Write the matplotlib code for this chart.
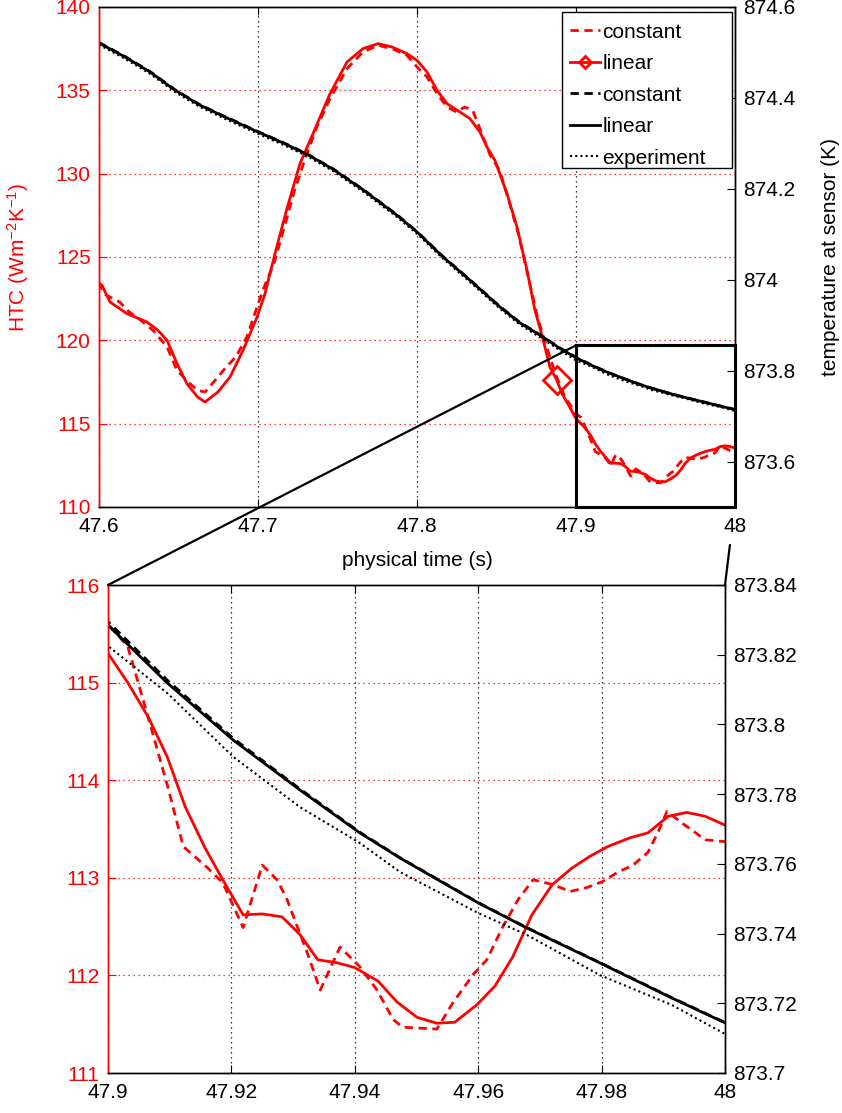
import matplotlib
matplotlib.use('Agg')
import matplotlib.pyplot as plt
from matplotlib.patches import Rectangle, ConnectionPatch
from matplotlib.ticker import FuncFormatter, FixedLocator

plt.rcParams['font.family'] = ['Liberation Sans', 'DejaVu Sans']
plt.rcParams['mathtext.default'] = 'regular'
FS = 15

# ---- heat transfer coefficient, constant model (W m^-2 K^-1) ----
t_htc_const = [
    47.6000, 47.6030, 47.6069, 47.6130, 47.6190, 47.6250, 47.6340, 47.6428,
    47.6491, 47.6560, 47.6620, 47.6667, 47.6730, 47.6800, 47.6860, 47.6930,
    47.7030, 47.7100, 47.7160, 47.7230, 47.7300, 47.7370, 47.7453, 47.7560,
    47.7660, 47.7755, 47.7843, 47.7937, 47.8000, 47.8063, 47.8126, 47.8189,
    47.8250, 47.8300, 47.8350, 47.8396, 47.8460, 47.8520, 47.8580, 47.8640,
    47.8700, 47.8760, 47.8816, 47.8870, 47.8930,
    47.9000, 47.9032, 47.9063, 47.9097, 47.9122, 47.9160, 47.9186, 47.9219,
    47.9250, 47.9274, 47.9290, 47.9323, 47.9344, 47.9376, 47.9408, 47.9436,
    47.9462, 47.9477, 47.9533, 47.9559, 47.9592, 47.9614, 47.9640, 47.9665,
    47.9689, 47.9721, 47.9749, 47.9776, 47.9801, 47.9827, 47.9851, 47.9875,
    47.9891, 47.9906, 47.9935, 47.9968, 48.0000]
htc_const = [
    123.5, 122.8, 122.6, 122.3, 121.7, 121.3, 120.6, 119.6,
    118.2, 117.5, 117.0, 116.9, 117.6, 118.4, 119.0, 120.2,
    123.0, 124.6, 126.6, 129.0, 131.0, 132.8, 134.5, 136.3,
    137.3, 137.7, 137.5, 137.1, 136.4, 135.8, 134.8, 134.0,
    133.7, 134.0, 133.8, 132.7, 131.1, 130.2, 128.3, 126.3,
    123.8, 121.3, 119.6, 118.0, 116.6,
    115.60, 115.37, 114.69, 113.93, 113.32, 113.11, 112.95, 112.49,
    113.13, 112.98, 112.78, 112.23, 111.85, 112.29, 112.09, 111.85,
    111.55, 111.47, 111.45, 111.72, 112.01, 112.16, 112.50, 112.78,
    112.98, 112.93, 112.86, 112.90, 112.96, 113.06, 113.13, 113.26,
    113.46, 113.68, 113.54, 113.39, 113.37]

# ---- heat transfer coefficient, linear model ----
t_htc_lin = [
    47.6000, 47.6019, 47.6069, 47.6176, 47.6302, 47.6371, 47.6428, 47.6491,
    47.6553, 47.6620, 47.6667, 47.6748, 47.6824, 47.6906, 47.6994, 47.7044,
    47.7075, 47.7126, 47.7182, 47.7264, 47.7346, 47.7453, 47.7560, 47.7660,
    47.7755, 47.7843, 47.7937, 47.8000, 47.8063, 47.8126, 47.8189, 47.8270,
    47.8333, 47.8396, 47.8440, 47.8490, 47.8566, 47.8629, 47.8692, 47.8742,
    47.8786, 47.8836, 47.8880, 47.8912, 47.8960,
    47.9000, 47.9032, 47.9065, 47.9096, 47.9125, 47.9157, 47.9186, 47.9219,
    47.9250, 47.9282, 47.9311, 47.9340, 47.9371, 47.9400, 47.9438, 47.9468,
    47.9501, 47.9533, 47.9562, 47.9598, 47.9627, 47.9656, 47.9687, 47.9720,
    47.9752, 47.9781, 47.9810, 47.9846, 47.9875, 47.9908, 47.9938, 47.9968,
    48.0000]
htc_lin = [
    123.4, 123.3, 122.3, 121.6, 121.1, 120.6, 120.0, 118.6,
    117.4, 116.6, 116.3, 116.9, 117.8, 119.4, 121.4, 122.8,
    124.0, 125.9, 127.9, 130.6, 132.4, 134.8, 136.7, 137.5,
    137.8, 137.6, 137.2, 136.8, 136.1, 135.0, 134.2, 133.7,
    133.3, 132.5, 131.6, 130.8, 128.8, 126.8, 124.2, 121.8,
    120.3, 118.4, 117.6, 116.8, 116.0,
    115.30, 115.00, 114.65, 114.24, 113.73, 113.31, 112.98, 112.62,
    112.63, 112.60, 112.42, 112.16, 112.13, 112.08, 111.94, 111.73,
    111.57, 111.51, 111.52, 111.70, 111.89, 112.19, 112.62, 112.93,
    113.10, 113.22, 113.32, 113.41, 113.46, 113.63, 113.67, 113.63,
    113.54]
marker_idx = [42]

# ---- temperature at the sensor (K) ----
t_temp = [
    47.6000, 47.6164, 47.6321, 47.6478, 47.6635, 47.6792, 47.7000, 47.7157,
    47.7308, 47.7472, 47.7660, 47.7874, 47.8000, 47.8164, 47.8333, 47.8522,
    47.8648, 47.8774, 47.8899, 47.9000, 47.9096, 47.9203, 47.9311, 47.9408,
    47.9473, 47.9600, 47.9679, 47.9797, 47.9914, 48.0000]
temp_const = [
    874.522, 874.491, 874.458, 874.418, 874.385, 874.359, 874.326, 874.302,
    874.277, 874.244, 874.199, 874.143, 874.106, 874.051, 874.000, 873.941,
    873.906, 873.879, 873.850, 873.8295, 873.8127, 873.7960, 873.7815, 873.7691,
    873.7618, 873.7489, 873.7417, 873.7317, 873.7216, 873.7145]
temp_lin = [
    874.521, 874.490, 874.457, 874.417, 874.384, 874.358, 874.325, 874.301,
    874.276, 874.243, 874.198, 874.142, 874.105, 874.050, 873.999, 873.940,
    873.905, 873.878, 873.849, 873.8285, 873.8119, 873.7955, 873.7812, 873.7689,
    873.7617, 873.7488, 873.7416, 873.7316, 873.7215, 873.7144]
temp_exp = [
    874.517, 874.486, 874.453, 874.413, 874.380, 874.354, 874.321, 874.297,
    874.272, 874.239, 874.194, 874.138, 874.101, 874.046, 873.995, 873.936,
    873.901, 873.873, 873.845, 873.8225, 873.8090, 873.7907, 873.7763, 873.7660,
    873.7577, 873.7459, 873.7396, 873.7281, 873.7195, 873.7112]

legend_labels = ['constant', 'linear', 'constant', 'linear', 'experiment']

top_xticks = [47.6, 47.7, 47.8, 47.9, 48.0]
top_htc_ticks = [110, 115, 120, 125, 130, 135, 140]
top_temp_ticks = [873.6, 873.8, 874.0, 874.2, 874.4, 874.6]
bot_xticks = [47.9, 47.92, 47.94, 47.96, 47.98, 48.0]
bot_htc_ticks = [111, 112, 113, 114, 115, 116]
bot_temp_ticks = [873.70, 873.72, 873.74, 873.76, 873.78, 873.80, 873.82, 873.84]

fmt = FuncFormatter(lambda v, p: f'{round(v, 6):g}')


def draw_panel(ax, xlim, ylim_htc, ylim_temp, xticks, htc_ticks, temp_ticks):
    ax.plot(t_htc_const, htc_const, color='red', ls=(0, (3, 2)), lw=2.0)
    ax.plot(t_htc_lin, htc_lin, color='red', lw=2.0, marker='D',
            markevery=marker_idx, ms=14, mfc='none', mec='red', mew=2.0)
    ax.set_xlim(*xlim)
    ax.set_ylim(*ylim_htc)
    ax.xaxis.set_major_locator(FixedLocator(xticks))
    ax.yaxis.set_major_locator(FixedLocator(htc_ticks))
    ax.xaxis.set_major_formatter(fmt)
    ax.yaxis.set_major_formatter(fmt)
    ax.grid(axis='y', color='red', ls=(0, (1, 3)), lw=0.9)
    ax.grid(axis='x', color='black', ls=(0, (1, 3)), lw=0.9)
    ax.tick_params(axis='y', colors='red', direction='in', length=6,
                   labelsize=FS, pad=6)
    ax.tick_params(axis='x', direction='in', length=6, top=True,
                   labelsize=FS, pad=7)

    ax2 = ax.twinx()
    ax2.plot(t_temp, temp_const, color='black', ls=(0, (3, 2)), lw=2.0)
    ax2.plot(t_temp, temp_lin, color='black', lw=2.0)
    ax2.plot(t_temp, temp_exp, color='black', ls=(0, (1, 1.5)), lw=1.5)
    ax2.set_ylim(*ylim_temp)
    ax2.yaxis.set_major_locator(FixedLocator(temp_ticks))
    ax2.yaxis.set_major_formatter(fmt)
    ax2.tick_params(axis='y', direction='in', length=6, labelsize=FS, pad=6)
    for a in (ax, ax2):
        a.spines['left'].set_color('red')
        for s in ('right', 'top', 'bottom'):
            a.spines[s].set_color('black')
        for s in a.spines.values():
            s.set_linewidth(1.0)
    return ax2


fig = plt.figure(figsize=(8.42, 11.13), dpi=100)
ax_top = fig.add_axes([99 / 842, 1 - 507 / 1113, 636 / 842, 500 / 1113])
ax_bot = fig.add_axes([108 / 842, 1 - 1073 / 1113, 617 / 842, 488 / 1113])

ax2_top = draw_panel(ax_top, (47.6, 48.0), (110, 140), (873.5, 874.6),
                     top_xticks, top_htc_ticks, top_temp_ticks)
ax2_bot = draw_panel(ax_bot, (47.9, 48.0), (111, 116), (873.70, 873.84),
                     bot_xticks, bot_htc_ticks, bot_temp_ticks)

ax_top.set_xlabel('physical time (s)', fontsize=FS, labelpad=11)
ax_top.set_ylabel('HTC (Wm$^{-2}$K$^{-1}$)', color='red', fontsize=FS,
                  labelpad=18)
ax2_top.set_ylabel('temperature at sensor (K)', fontsize=FS, labelpad=18)

# legend box: white panel with a black border, entries drawn on top of it
legend_box = Rectangle((0.728, 0.678), 0.267, 0.312, transform=ax2_top.transAxes,
                       fc='white', ec='black', lw=1.0, zorder=4)
ax2_top.add_patch(legend_box)
handles = ax_top.get_lines() + ax2_top.get_lines()
leg = ax2_top.legend(handles, legend_labels, loc='upper left',
                     bbox_to_anchor=(0.729, 0.983), fontsize=FS,
                     frameon=False, handlelength=1.45, handletextpad=0.1,
                     labelspacing=0.6, borderpad=0.35, borderaxespad=0.0,
                     markerscale=0.45)
leg.set_zorder(5)

# zoom window on the upper panel and its connectors to the lower panel
zoom_box = Rectangle((47.9, 110), 0.1, 9.7, fill=False, ec='black', lw=2.2,
                     zorder=6, clip_on=False)
ax_top.add_patch(zoom_box)
con1 = ConnectionPatch(xyA=(47.9, 119.7), coordsA=ax_top.transData,
                       xyB=(0, 1), coordsB=ax_bot.transAxes,
                       color='black', lw=1.6)
con2 = ConnectionPatch(xyA=(0.992, -0.076), coordsA=ax_top.transAxes,
                       xyB=(1, 1), coordsB=ax_bot.transAxes,
                       color='black', lw=1.6)
fig.add_artist(con1)
fig.add_artist(con2)

fig.savefig('out.png', dpi=100)
